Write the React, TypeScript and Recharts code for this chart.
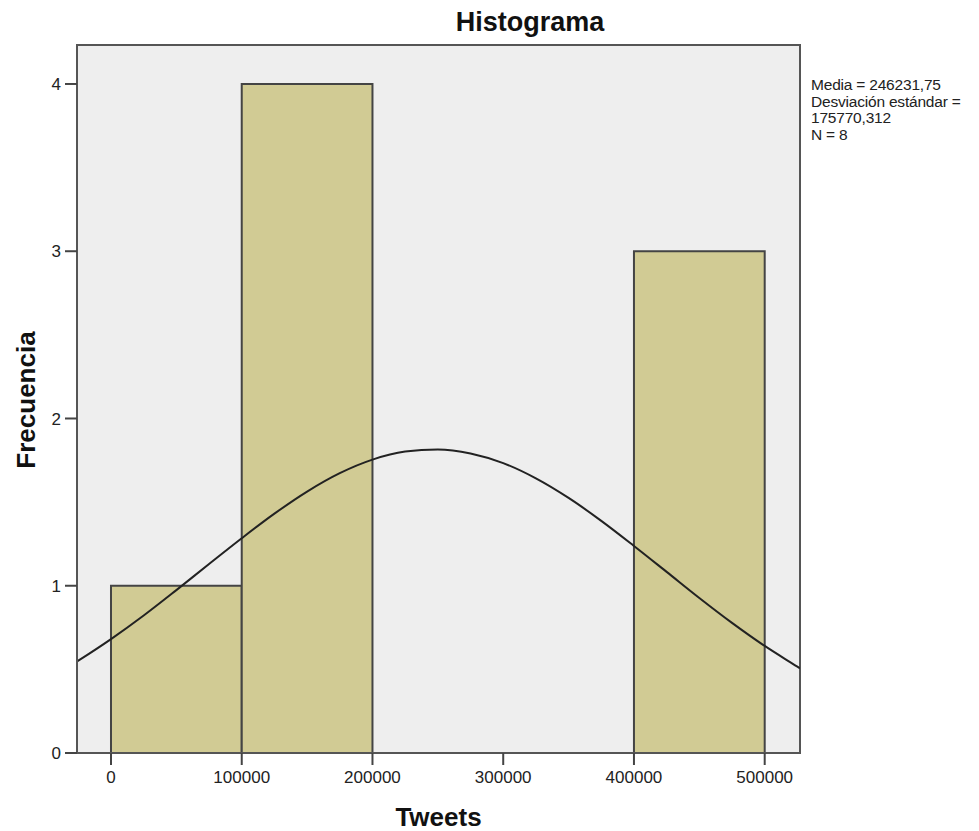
import { ComposedChart, Line, XAxis, YAxis, ReferenceArea } from 'recharts'

const binStarts = [0, 100000, 200000, 300000, 400000]
const binEnds = [100000, 200000, 300000, 400000, 500000]
const binCounts = [1, 4, 0, 0, 3]

const curveX = [
  -26000, -25000, 0, 25000, 50000, 75000, 100000, 125000, 150000, 175000, 200000, 225000,
  250000, 275000, 300000, 325000, 350000, 375000, 400000, 425000, 450000, 475000, 500000,
  525000, 527000,
]
const curveY = [
  0.547, 0.552, 0.681, 0.822, 0.974, 1.13, 1.284, 1.431, 1.563, 1.673, 1.754, 1.802, 1.815,
  1.791, 1.733, 1.642, 1.525, 1.388, 1.238, 1.083, 0.927, 0.778, 0.64, 0.516, 0.506,
]

const xTicks = [0, 100000, 200000, 300000, 400000, 500000]
const yTicks = [0, 1, 2, 3, 4]
const statsLines = ['Media = 246231,75', 'Desviación estándar =', '175770,312', 'N = 8']

const X_MIN = -26000
const X_MAX = 527000
const Y_MAX = 4.233

const curveData = curveX.map((x, i) => ({ x, y: curveY[i] }))

const tickStyle = { fontSize: 17, fill: '#222', fontFamily: 'Liberation Sans, Arial' }

export default function App() {
  return (
    <div style={{ position: 'relative', width: 979, height: 831, background: '#fff', fontFamily: 'Liberation Sans, Arial' }}>
      <style>{'body{margin:0}'}</style>
      <ComposedChart width={979} height={831} data={curveData} margin={{ top: 45, right: 179, bottom: 48, left: 17 }}>
        <XAxis
          dataKey="x"
          type="number"
          domain={[X_MIN, X_MAX]}
          ticks={xTicks}
          allowDataOverflow
          height={30}
          tick={{ ...tickStyle, dy: 4 }}
          tickSize={12}
          tickLine={{ stroke: '#444', strokeWidth: 2 }}
          axisLine={{ stroke: '#555', strokeWidth: 2 }}
          interval={0}
        />
        <YAxis
          type="number"
          domain={[0, Y_MAX]}
          ticks={yTicks}
          allowDataOverflow
          width={60}
          tick={{ ...tickStyle, dx: -2 }}
          tickSize={12}
          tickLine={{ stroke: '#444', strokeWidth: 2 }}
          axisLine={{ stroke: '#555', strokeWidth: 2 }}
          interval={0}
        />
        <ReferenceArea
          x1={X_MIN}
          x2={X_MAX}
          y1={0}
          y2={Y_MAX}
          fill="#EEEEEE"
          fillOpacity={1}
          stroke="#555"
          strokeWidth={2}
          ifOverflow="visible"
        />
        {binCounts.map((c, i) =>
          c > 0 ? (
            <ReferenceArea
              key={i}
              x1={binStarts[i]}
              x2={binEnds[i]}
              y1={0}
              y2={c}
              fill="#D1CB94"
              fillOpacity={1}
              stroke="#444"
              strokeWidth={2}
            />
          ) : null
        )}
        <Line
          dataKey="y"
          type="monotone"
          stroke="#222"
          strokeWidth={2}
          dot={false}
          isAnimationActive={false}
        />
      </ComposedChart>
      <div style={{ position: 'absolute', left: 0, top: 7, width: 1060, textAlign: 'center', fontSize: 27, fontWeight: 'bold', color: '#111' }}>
        Histograma
      </div>
      <div style={{ position: 'absolute', left: 77, top: 802, width: 723, textAlign: 'center', fontSize: 26, fontWeight: 'bold', color: '#111' }}>
        Tweets
      </div>
      <div
        style={{
          position: 'absolute',
          left: 26,
          top: 400,
          transform: 'translate(-50%, -50%) rotate(-90deg)',
          fontSize: 26,
          fontWeight: 'bold',
          color: '#111',
          whiteSpace: 'nowrap',
        }}
      >
        Frecuencia
      </div>
      <div style={{ position: 'absolute', left: 811, top: 77, fontSize: 15.5, lineHeight: '16.5px', color: '#222', letterSpacing: -0.2 }}>
        {statsLines.map((s) => (
          <div key={s}>{s}</div>
        ))}
      </div>
    </div>
  )
}
